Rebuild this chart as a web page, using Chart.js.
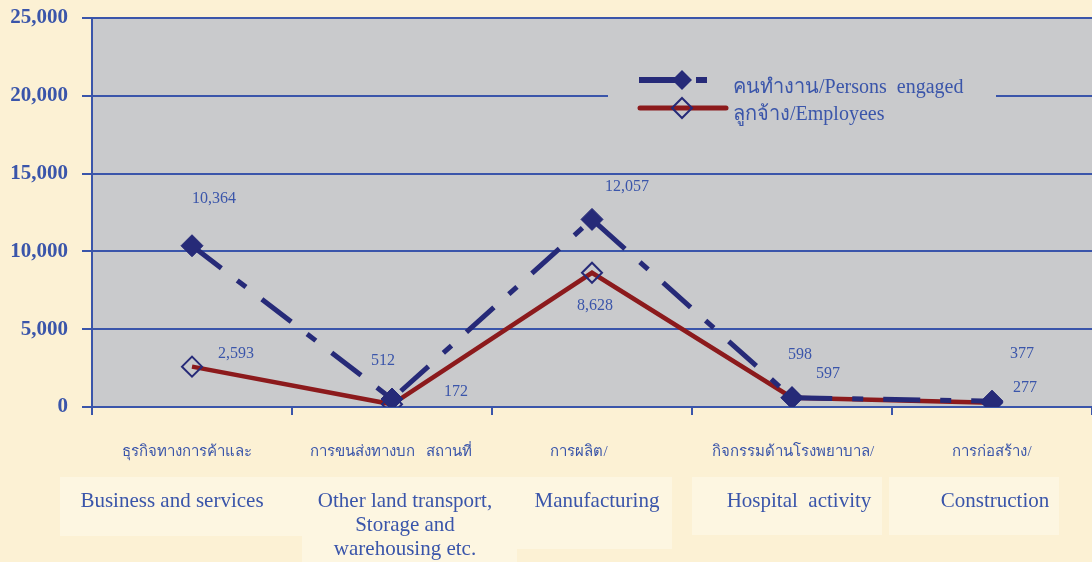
<!DOCTYPE html>
<html>
<head>
<meta charset="utf-8">
<script src="https://cdn.jsdelivr.net/npm/chart.js@4.4.0/dist/chart.umd.min.js"></script>
<style>
  html, body { margin: 0; padding: 0; background: #fcf1d4; overflow: hidden; }
  #chart { display: block; }
</style>
</head>
<body>
<canvas id="chart" width="1092" height="562"></canvas>
<script>
// data
var thai_labels = ['ธุรกิจทางการค้าและ', 'การขนส่งทางบก   สถานที่', 'การผลิต/', 'กิจกรรมด้านโรงพยาบาล/', 'การก่อสร้าง/'];
var eng_labels = [['Business and services'], ['Other land transport,', 'Storage and', 'warehousing etc.'], ['Manufacturing'], ['Hospital  activity'], ['Construction']];
var persons_engaged = [10364, 512, 12057, 598, 377];
var employees = [2593, 172, 8628, 597, 277];
var y_ticks = [0, 5000, 10000, 15000, 20000, 25000];
var legend_labels = ['คนทำงาน/Persons  engaged', 'ลูกจ้าง/Employees'];

// label placement (offset from point, px)
var persons_label_off = [[22, -47], [-9, -38], [35, -33], [8, -43], [30, -47]];
var employees_label_off = [[44, -13], [64, -13], [3, 33], [36, -24], [33, -15]];
var eng_dx = [-20, 13, 5, 7, 3];
var thai_dx = [-5, -1, -13, 1, 0];

var blue = '#3a55aa';
var navy = '#262a78';
var red = '#8c1a1c';
var serif = '"Liberation Serif", "Times New Roman", serif';

function fmt(v) { return v.toLocaleString('en-US'); }

function noPad(s) {
    s.paddingTop = 0; s.paddingBottom = 0; s.paddingLeft = 0; s.paddingRight = 0;
}

var decor = {
    id: 'decor',
    beforeDraw(chart) {
        var a = chart.chartArea, ctx = chart.ctx;
        ctx.save();
        ctx.fillStyle = '#c9cacc';
        ctx.fillRect(a.left, a.top, a.right - a.left, a.bottom - a.top);
        // pale boxes behind english labels
        ctx.fillStyle = '#fdf6e1';
        ctx.fillRect(60, 477, 242, 59);
        ctx.fillRect(302, 477, 215, 85);
        ctx.fillRect(517, 477, 155, 72);
        ctx.fillRect(692, 477, 190, 58);
        ctx.fillRect(889, 477, 170, 58);
        ctx.restore();
    },
    beforeDatasetsDraw(chart) {
        var ctx = chart.ctx;
        ctx.save();
        ctx.fillStyle = '#c9cacc';
        ctx.fillRect(608, 68, 388, 56);
        ctx.restore();
    },
    afterDatasetsDraw(chart) {
        var ctx = chart.ctx;
        var xs = chart.scales.x;
        ctx.save();
        // data labels
        ctx.font = '16px ' + serif;
        ctx.fillStyle = blue;
        ctx.textAlign = 'center';
        ctx.textBaseline = 'middle';
        [[0, persons_engaged, persons_label_off], [1, employees, employees_label_off]].forEach(function (s) {
            var meta = chart.getDatasetMeta(s[0]);
            meta.data.forEach(function (p, i) {
                ctx.fillText(fmt(s[1][i]), p.x + s[2][i][0], p.y + s[2][i][1]);
            });
        });

        // legend
        ctx.lineCap = 'butt';
        ctx.strokeStyle = navy;
        ctx.lineWidth = 6;
        ctx.beginPath(); ctx.moveTo(639, 80); ctx.lineTo(682, 80); ctx.stroke();
        ctx.beginPath(); ctx.moveTo(696, 80); ctx.lineTo(707, 80); ctx.stroke();
        ctx.fillStyle = navy;
        ctx.beginPath();
        ctx.moveTo(682, 70); ctx.lineTo(692, 80); ctx.lineTo(682, 90); ctx.lineTo(672, 80);
        ctx.closePath(); ctx.fill();
        ctx.strokeStyle = red;
        ctx.lineWidth = 5;
        ctx.lineCap = 'round';
        ctx.beginPath(); ctx.moveTo(640, 108); ctx.lineTo(726, 108); ctx.stroke();
        ctx.strokeStyle = navy;
        ctx.lineWidth = 2;
        ctx.beginPath();
        ctx.moveTo(682, 98); ctx.lineTo(692, 108); ctx.lineTo(682, 118); ctx.lineTo(672, 108);
        ctx.closePath(); ctx.stroke();
        ctx.font = '20px ' + serif;
        ctx.fillStyle = blue;
        ctx.textAlign = 'left';
        ctx.textBaseline = 'alphabetic';
        ctx.fillText(legend_labels[0], 733, 93);
        ctx.fillText(legend_labels[1], 733, 120);

        // category labels, thai line then english
        ctx.textAlign = 'center';
        for (var i = 0; i < thai_labels.length; i++) {
            var cx = xs.getPixelForValue(i);
            ctx.font = '15px ' + serif;
            ctx.fillText(thai_labels[i], cx + thai_dx[i], 456);
            ctx.font = '21px ' + serif;
            eng_labels[i].forEach(function (line, k) {
                ctx.fillText(line, cx + eng_dx[i], 507 + k * 24);
            });
        }
        ctx.restore();
    }
};

new Chart(document.getElementById('chart'), {
    type: 'line',
    data: {
        labels: eng_labels.map(function (l) { return l.join(' '); }),
        datasets: [
            {
                label: legend_labels[0],
                data: persons_engaged,
                borderColor: navy,
                borderWidth: 5,
                borderDash: [37, 20, 11, 20],
                pointStyle: 'rectRot',
                pointRadius: 11,
                pointBackgroundColor: navy,
                pointBorderColor: navy,
                pointBorderWidth: 1,
                tension: 0
            },
            {
                label: legend_labels[1],
                data: employees,
                borderColor: red,
                borderWidth: 4.5,
                pointStyle: 'rectRot',
                pointRadius: 10,
                pointBackgroundColor: 'rgba(0,0,0,0)',
                pointBorderColor: navy,
                pointBorderWidth: 2,
                tension: 0
            }
        ]
    },
    options: {
        responsive: false,
        animation: false,
        layout: { autoPadding: false, padding: { top: 18, right: 0, left: 0, bottom: 0 } },
        plugins: {
            legend: { display: false },
            tooltip: { enabled: false }
        },
        scales: {
            x: {
                type: 'category',
                offset: true,
                grid: { offset: true, drawOnChartArea: false, color: blue, lineWidth: 2, tickLength: 8 },
                border: { color: blue, width: 2 },
                ticks: { display: false },
                afterFit: function (s) { s.height = 155; noPad(s); }
            },
            y: {
                min: 0,
                max: 25000,
                afterBuildTicks: function (axis) {
                    axis.ticks = y_ticks.map(function (v) { return { value: v }; });
                },
                ticks: {
                    callback: function (v) { return fmt(v); },
                    color: blue,
                    font: { family: serif, size: 21, weight: 'bold' },
                    padding: 14
                },
                grid: { color: blue, lineWidth: 2, tickLength: 10 },
                border: { color: blue, width: 2 },
                afterFit: function (s) { s.width = 92; noPad(s); }
            }
        }
    },
    plugins: [decor]
});
</script>
</body>
</html>
